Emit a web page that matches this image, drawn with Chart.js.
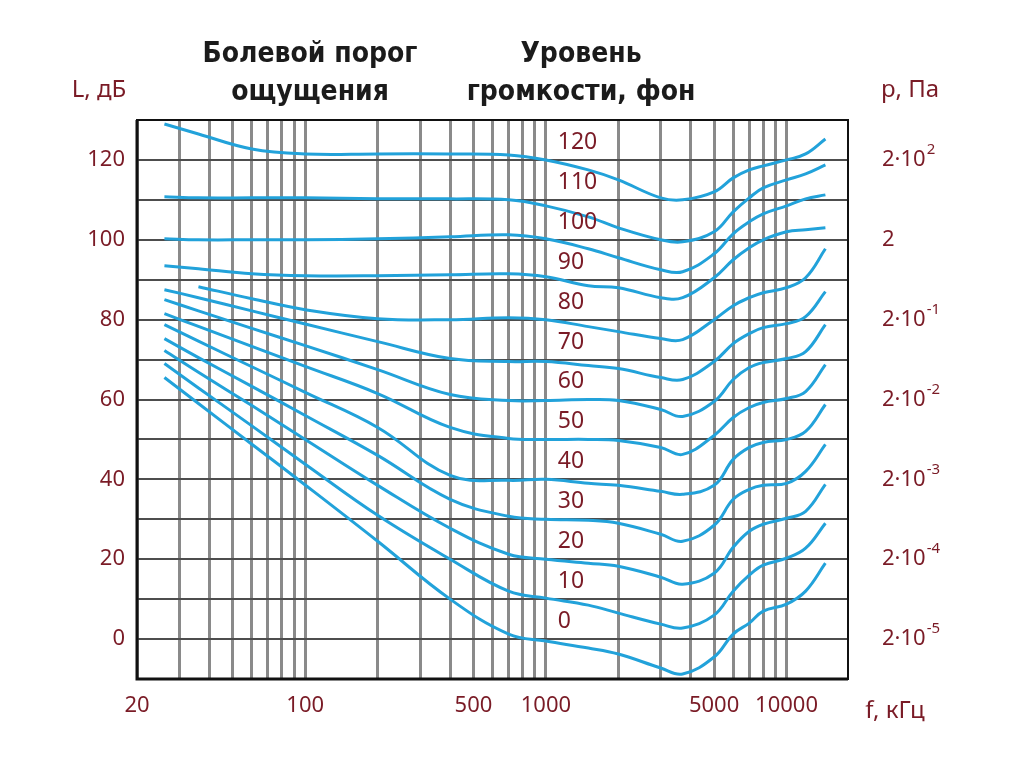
<!DOCTYPE html>
<html>
<head>
<meta charset="utf-8">
<script src="https://cdn.jsdelivr.net/npm/chart.js@4.4.0/dist/chart.umd.min.js"></script>
<style>
  html, body { margin: 0; padding: 0; background: #fff; }
  #wrap { width: 1024px; height: 767px; }
</style>
</head>
<body>
<div id="wrap"><canvas id="phonChart" width="1024" height="767"></canvas></div>
<script>
const freqs = [26, 36, 60, 100, 200, 400, 700, 1000, 1500, 2000, 3000, 3700, 5000, 6000, 7000, 8000, 10000, 12000, 14500];

// sound level L, dB, for each loudness level (phon)
const phon120 = [129, 126.5, 122.75, 121.5, 121.5, 121.5, 121.25, 120, 117.5, 115, 110.5, 110, 112, 115.5, 117.5, 118.5, 120, 121.5, 125.25];
const phon110 = [110.75, 110.5, 110.5, 110.5, 110.25, 110.25, 110, 108.5, 105.75, 103, 100, 99.5, 102, 107, 110.5, 113, 115, 116.5, 118.75];
const phon100 = [100.25, 100, 100, 100, 100.25, 100.75, 101.25, 100.25, 97.75, 95.5, 92.5, 92, 96.5, 101.5, 104.5, 106.5, 108.5, 110.25, 111.25];
const phon90  = [93.5, 92.75, 91.5, 91, 91, 91.25, 91.5, 90.75, 88.5, 88, 85.5, 85.5, 90.5, 95, 98, 100, 102, 102.5, 103];
const phon80  = [null, 88.25, 85.25, 82.5, 80.25, 80, 80.5, 80, 78.25, 77, 75.25, 75, 80, 83.5, 85.5, 86.75, 88, 90.5, 97.75];
const phon70  = [87.5, 85.5, 82.2, 78.9, 74.5, 70.25, 69.5, 69.5, 68.5, 67.75, 65.5, 65, 69.5, 74, 76.5, 78, 79, 80.75, 87];
const phon60  = [85, 82.2, 77.8, 73.5, 67.5, 61.25, 59.75, 59.75, 60, 59.75, 57.5, 55.75, 59.5, 65, 68, 69.25, 70.25, 72, 78.75];
const phon50  = [81.5, 78.3, 73.3, 68.3, 61.5, 53, 50.25, 50, 50, 49.75, 48, 46.25, 51, 55.5, 58, 59.25, 60.25, 62, 68.75];
const phon40  = [78.75, 74.6, 68.2, 61.8, 53, 41, 39.75, 40, 39, 38.5, 37, 36.25, 38.5, 45, 48, 49.25, 50, 52, 58.75];
const phon30  = [75.25, 70.5, 63.3, 56, 46, 35, 30.75, 30, 29.75, 29, 26.25, 24.5, 28.5, 35, 37.5, 38.5, 39, 42, 48.75];
const phon20  = [72.25, 66.8, 58.5, 50, 38.5, 27.75, 21.25, 20, 19, 18.25, 15.5, 13.75, 16.5, 23, 27, 28.75, 30.25, 32, 38.75];
const phon10  = [69, 62.9, 53.4, 43.8, 31, 20, 12, 10.25, 8.5, 6.5, 3.75, 2.75, 6, 12, 16, 18.5, 20.25, 22.75, 29];
const phon0   = [65.5, 59, 48.8, 38.6, 24.5, 10, 1.25, -0.5, -2.25, -3.75, -7.25, -8.75, -4.5, 1.25, 4, 7, 8.75, 12, 19];

const phonLevels = [120, 110, 100, 90, 80, 70, 60, 50, 40, 30, 20, 10, 0];
const phonCurves = [phon120, phon110, phon100, phon90, phon80, phon70, phon60, phon50, phon40, phon30, phon20, phon10, phon0];

// axis ticks
const freqGrid = [20, 30, 40, 50, 60, 70, 80, 90, 100, 200, 300, 400, 500, 600, 700, 800, 900,
                  1000, 2000, 3000, 4000, 5000, 6000, 7000, 8000, 9000, 10000];
const freqLabels = [20, 100, 500, 1000, 5000, 10000];
const levelGrid = [-10, 0, 10, 20, 30, 40, 50, 60, 70, 80, 90, 100, 110, 120, 130];
const levelLabels = [0, 20, 40, 60, 80, 100, 120];
const pressureBase = ['2·10', '2·10', '2·10', '2·10', '2·10', '2', '2·10'];
const pressureExp  = ['-5', '-4', '-3', '-2', '-1', '', '2'];

const curveColor = '#22a2da';
const textRed = '#7a1b26';
const labelFreq = 1120;     // where the phon numbers sit
const labelRaise = 4.4;     // dB above each curve

const decorPlugin = {
    id: 'decor',
    afterDraw(chart) {
        const { ctx, chartArea: a, scales } = chart;
        ctx.save();
        // frame
        ctx.strokeStyle = '#111';
        ctx.lineWidth = 2;
        ctx.strokeRect(a.left, a.top, a.right - a.left, a.bottom - a.top);
        ctx.lineWidth = 3;
        ctx.beginPath();
        ctx.moveTo(a.left, a.top);
        ctx.lineTo(a.left, a.bottom);
        ctx.lineTo(a.right, a.bottom);
        ctx.stroke();

        // phon numbers
        ctx.fillStyle = textRed;
        ctx.font = '23px "Noto Sans", "Open Sans", sans-serif';
        ctx.textAlign = 'left';
        ctx.textBaseline = 'middle';
        const lx = scales.x.getPixelForValue(labelFreq);
        phonLevels.forEach(lvl => {
            ctx.fillText(String(lvl), lx, scales.y.getPixelForValue(lvl + labelRaise));
        });

        // sound pressure on the right, with raised exponents
        const px = a.right + 34;
        levelLabels.forEach((lvl, i) => {
            const py = scales.y2.getPixelForValue(lvl);
            ctx.font = '22px "Noto Sans", "Open Sans", sans-serif';
            ctx.fillText(pressureBase[i], px, py);
            if (pressureExp[i]) {
                const w = ctx.measureText(pressureBase[i]).width;
                ctx.font = '15px "Noto Sans", "Open Sans", sans-serif';
                ctx.fillText(pressureExp[i], px + w + 1, py - 10);
            }
        });

        // headings
        ctx.fillStyle = '#1b1b1b';
        ctx.font = 'bold 28px "Liberation Sans Narrow", "DejaVu Sans Condensed", sans-serif';
        ctx.textAlign = 'center';
        ctx.fillText('Болевой порог', 310, 55);
        ctx.fillText('ощущения', 310, 93);
        ctx.fillText('Уровень', 581, 55);
        ctx.fillText('громкости, фон', 581, 93);

        // axis units
        ctx.fillStyle = textRed;
        ctx.font = '24px "Liberation Sans Narrow", "Noto Sans", sans-serif';
        ctx.fillText('L, дБ', 99, 90);
        ctx.fillText('р, Па', 910, 90);
        ctx.fillText('f, кГц', 895, 711);
        ctx.restore();
    }
};

const datasets = phonLevels.map((lvl, i) => ({
    label: lvl + ' фон',
    data: freqs.map((f, j) => ({ x: f, y: phonCurves[i][j] })).filter(p => p.y !== null),
    borderColor: curveColor,
    borderWidth: 3,
    pointRadius: 0,
    fill: false,
    tension: 0.4
}));

const tickFont = { family: '"Noto Sans", "Open Sans", sans-serif', size: 22 };

new Chart(document.getElementById('phonChart'), {
    type: 'line',
    data: { datasets },
    options: {
        responsive: false,
        animation: false,
        layout: { padding: { top: 120 } },
        plugins: { legend: { display: false }, tooltip: { enabled: false } },
        scales: {
            x: {
                type: 'logarithmic',
                min: 20,
                max: 18000,
                afterBuildTicks: s => { s.ticks = freqGrid.map(v => ({ value: v })); },
                afterFit: s => { s.height = 88; },
                ticks: {
                    autoSkip: false,
                    maxRotation: 0,
                    padding: 14,
                    color: textRed,
                    font: tickFont,
                    callback: v => freqLabels.includes(v) ? String(v) : ''
                },
                grid: { color: '#8a8a8a', lineWidth: 3, drawTicks: false },
                border: { display: false }
            },
            y: {
                min: -10,
                max: 130,
                afterBuildTicks: s => { s.ticks = levelGrid.map(v => ({ value: v })); },
                afterFit: s => { s.width = 137; },
                ticks: {
                    autoSkip: false,
                    padding: 12,
                    color: textRed,
                    font: tickFont,
                    callback: v => levelLabels.includes(v) ? String(v) : ''
                },
                grid: { color: '#4d4d4d', lineWidth: 2, drawTicks: false },
                border: { display: false }
            },
            y2: {
                position: 'right',
                min: -10,
                max: 130,
                afterFit: s => { s.width = 176; },
                ticks: { display: false },
                grid: { display: false, drawTicks: false },
                border: { display: false }
            }
        }
    },
    plugins: [decorPlugin]
});
</script>
</body>
</html>
